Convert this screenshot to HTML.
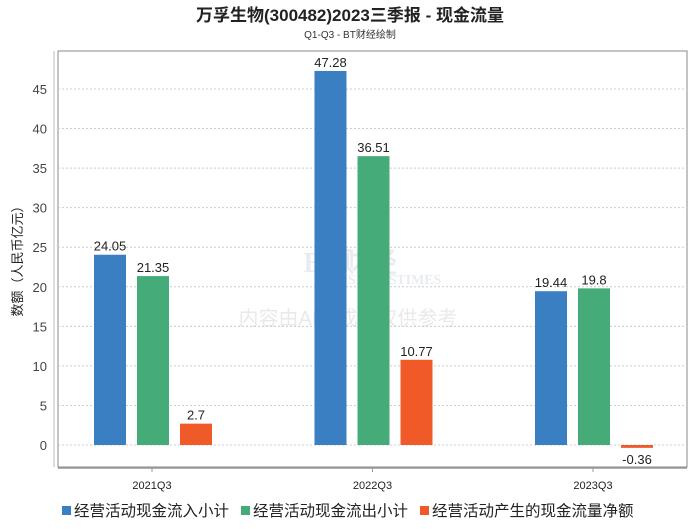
<!DOCTYPE html>
<html><head><meta charset="utf-8"><style>
body{margin:0;background:#fff;font-family:"Liberation Sans","Noto Sans CJK SC",sans-serif;}
</style></head><body>
<svg width="700" height="524" viewBox="0 0 700 524" xmlns="http://www.w3.org/2000/svg">
<text x="350" y="21" text-anchor="middle" font-size="17" font-weight="bold" fill="#222" font-family="Liberation Sans,Noto Sans CJK SC,sans-serif">万孚生物(300482)2023三季报 - 现金流量</text>
<text x="350" y="38" text-anchor="middle" font-size="10" fill="#333">Q1-Q3 - BT财经绘制</text>
<g opacity="0.18">
<text x="350" y="272" text-anchor="middle" font-size="28" font-weight="bold" fill="#8899aa" font-family="Liberation Serif,serif">BT财经</text>
<text x="385" y="284" text-anchor="middle" font-size="14" font-weight="bold" fill="#8899aa" font-family="Liberation Serif,serif">BUSINESSTIMES</text>
<text x="348" y="325" text-anchor="middle" font-size="20" fill="#888">内容由AI生成，仅供参考</text>
</g>
<rect x="58" y="51" width="629" height="416" fill="none" stroke="#888" stroke-width="1"/>
<line x1="54" y1="51" x2="54" y2="467" stroke="#bbb"/>
<line x1="58" y1="468" x2="687" y2="468" stroke="#999" stroke-width="1.5"/>
<g id="grid"></g><g id="bars"></g><g id="xlab"></g>
<text transform="translate(22,258) rotate(-90)" text-anchor="middle" font-size="13" fill="#222">数额（人民币亿元）</text>
<g font-size="15.5" fill="#222">
<g><rect x="62" y="506" width="9" height="9" fill="#3a7fc1"/><text x="74" y="516">经营活动现金流入小计</text></g>
<g><rect x="241" y="506" width="9" height="9" fill="#45ab78"/><text x="253" y="516">经营活动现金流出小计</text></g>
<g><rect x="420" y="506" width="9" height="9" fill="#f05a28"/><text x="432" y="516">经营活动产生的现金流量净额</text></g>
</g>
</svg>
<script>
const categories=["2021Q3","2022Q3","2023Q3"];
const inflow=[24.05,47.28,19.44];
const outflow=[21.35,36.51,19.8];
const net=[2.7,10.77,-0.36];
const yTicks=[0,5,10,15,20,25,30,35,40,45];
const NS="http://www.w3.org/2000/svg";
const y=v=>445-v*(356/45);
const cx=i=>152+i*220.5;
const grid=document.getElementById('grid'),bars=document.getElementById('bars'),xl=document.getElementById('xlab');
function mk(tag,attrs,parent){const e=document.createElementNS(NS,tag);for(const k in attrs)e.setAttribute(k,attrs[k]);parent.appendChild(e);return e;}
yTicks.forEach(t=>{
 const l=mk('line',{x1:58,x2:687,y1:y(t),y2:y(t),stroke:'#ccc','stroke-dasharray':'2,2'},grid);
 
 
 const tx=mk('text',{x:47,y:y(t)+5,'text-anchor':'end','font-size':13,fill:'#444'},grid);
 tx.textContent=t;
 
 
});
const series=[[inflow,'#3a7fc1','inflow'],[outflow,'#45ab78','outflow'],[net,'#f05a28','net']];
categories.forEach((c,i)=>{
 series.forEach((s,j)=>{
  const v=s[0][i],x=cx(i)-58+j*43;
  const top=Math.min(y(v),y(0)),h=Math.abs(y(v)-y(0));
  const r=mk('rect',{x:x,y:top,width:32,height:Math.max(h,1),fill:s[1]},bars);
  
  
  const t=mk('text',{x:x+16,y:v>=0?top-4:y(0)+h+16,'text-anchor':'middle','font-size':13,fill:'#222'},bars);
  t.textContent=v;
  
  
 });
 const tk=mk('line',{x1:cx(i),x2:cx(i),y1:468,y2:472,stroke:'#999'},xl);
 
 
 const lb=mk('text',{x:cx(i),y:489,'text-anchor':'middle','font-size':11,fill:'#222'},xl);
 lb.textContent=c;
 
 
});
</script>
</body></html>
